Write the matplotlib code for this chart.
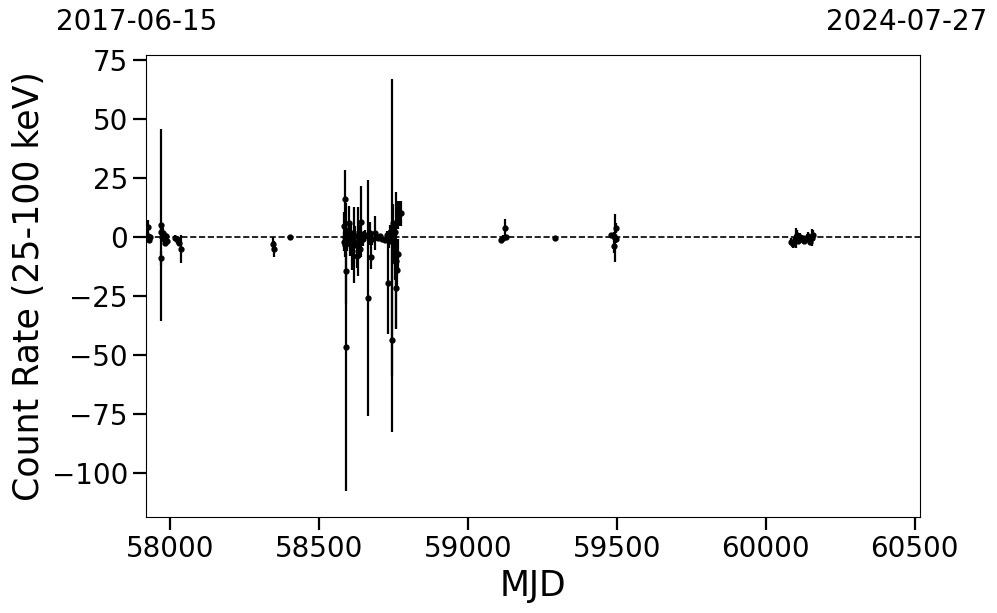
import numpy as np
import matplotlib
matplotlib.use("Agg")
import matplotlib.pyplot as plt

# MJD, count rate (25-100 keV), 1-sigma error
mjd = [
    57925, 57927, 57929, 57931,
    57969, 57970, 57971, 57974, 57977, 57980, 57983, 57986, 57990,
    58015, 58022, 58027, 58031, 58035,
    58347, 58349, 58404,
    58583, 58585, 58586, 58587, 58588, 58589, 58592, 58595, 58598, 58601,
    58604, 58608, 58612, 58615, 58618, 58622, 58626, 58630, 58634, 58638,
    58642, 58646, 58650, 58655, 58663, 58667, 58672, 58674, 58678, 58687,
    58692, 58698, 58705, 58712, 58720, 58728, 58732, 58736, 58740, 58744,
    58746, 58748, 58750, 58752, 58754, 58756, 58758, 58760, 58762, 58764,
    58766, 58770, 58775,
    59112, 59118, 59125, 59127, 59292,
    59480, 59490, 59492, 59493, 59496, 59498,
    60085, 60092, 60097, 60102, 60106, 60110, 60115, 60120, 60125, 60130,
    60136, 60142, 60148, 60155, 60160,
]
rate = [
    4.2, 0.5, -1.3, 0.0,
    5.0, -9.0, 2.3, 0.0, 1.5, -1.0, -2.5, 0.3, -1.5,
    -0.3, -0.8, -1.5, -2.5, -5.0,
    -3.0, -5.0, 0.0,
    -2.0, 4.5, 16.0, 0.0, -3.5, -14.4, -46.7, -2.0, 1.0, 6.0,
    -3.0, 1.5, -6.0, -1.0, -3.4, 0.5, -8.0, -2.0, 2.0, -5.0,
    6.5, -1.0, 0.5, 1.0, -25.8, 0.0, 1.5, -8.6, -1.0, 1.7,
    0.0, -0.5, 0.3, -0.8, -1.2, 1.0, -19.6, -1.5, 2.0, -43.8,
    4.0, -2.0, 6.0, -5.0, 2.0, -10.0, -10.0, -21.5, -14.0, -7.0,
    9.3, 10.0, 10.0,
    -1.3, -0.3, 3.7, 0.0, -0.6,
    0.8, 0.4, -3.8, -0.4, 3.7, -1.0,
    -2.0, -3.0, -1.0, -0.5, 1.0, -1.5, 0.0, -1.0, -0.5, -1.5,
    -1.0, 0.5, -2.0, -0.3, 1.0,
]
err = [
    2.8, 1.5, 1.0, 1.2,
    40.7, 3.0, 2.0, 1.5, 2.5, 2.0, 1.5, 1.5, 2.0,
    1.0, 1.0, 1.5, 1.5, 6.0,
    3.0, 3.5, 0.8,
    4.0, 6.0, 12.5, 3.0, 5.0, 14.0, 61.0, 4.0, 3.0, 7.0,
    5.0, 4.0, 8.0, 3.0, 16.2, 4.0, 5.0, 14.5, 3.0, 4.0,
    15.0, 3.0, 2.0, 2.0, 49.8, 3.0, 5.0, 5.0, 2.5, 7.2,
    1.5, 1.0, 1.0, 1.0, 1.0, 1.5, 21.4, 3.0, 3.0, 38.7,
    63.0, 5.0, 8.0, 6.0, 4.0, 8.0, 29.0, 17.5, 8.0, 6.0,
    6.0, 5.4, 5.4,
    1.0, 1.0, 4.0, 1.0, 0.8,
    1.0, 1.5, 3.0, 10.0, 2.0, 1.5,
    1.5, 1.5, 2.0, 4.3, 2.0, 1.5, 1.5, 1.0, 1.0, 1.0,
    1.5, 1.5, 1.5, 3.6, 2.0,
]

mjd_start, mjd_end = 57919, 60518
date_start, date_end = "2017-06-15", "2024-07-27"

W, H = 997, 613
fig = plt.figure(figsize=(W / 100, H / 100), dpi=100)
ax = fig.add_axes([146 / W, (H - 517) / H, 774 / W, 462 / H])

ax.errorbar(mjd, rate, yerr=err, fmt="o", color="black", ms=3.5,
            elinewidth=1.6, capsize=0, zorder=3)
ax.axhline(0, color="black", ls="--", lw=1.2, zorder=2)

ax.set_xlim(mjd_start, mjd_end)
ax.set_ylim(-118.5, 77)
ax.set_xticks([58000, 58500, 59000, 59500, 60000, 60500])
ax.set_yticks([-100, -75, -50, -25, 0, 25, 50, 75])
ax.tick_params(axis="both", labelsize=20, length=9.5, width=1.6)
ax.set_xlabel("MJD", fontsize=25)
ax.set_ylabel("Count Rate (25-100 keV)", fontsize=25)

fig.text(137 / W, 1 - 22 / H, date_start, ha="center", va="center", fontsize=20)
fig.text(907 / W, 1 - 22 / H, date_end, ha="center", va="center", fontsize=20)

fig.savefig("out.png", dpi=100)
